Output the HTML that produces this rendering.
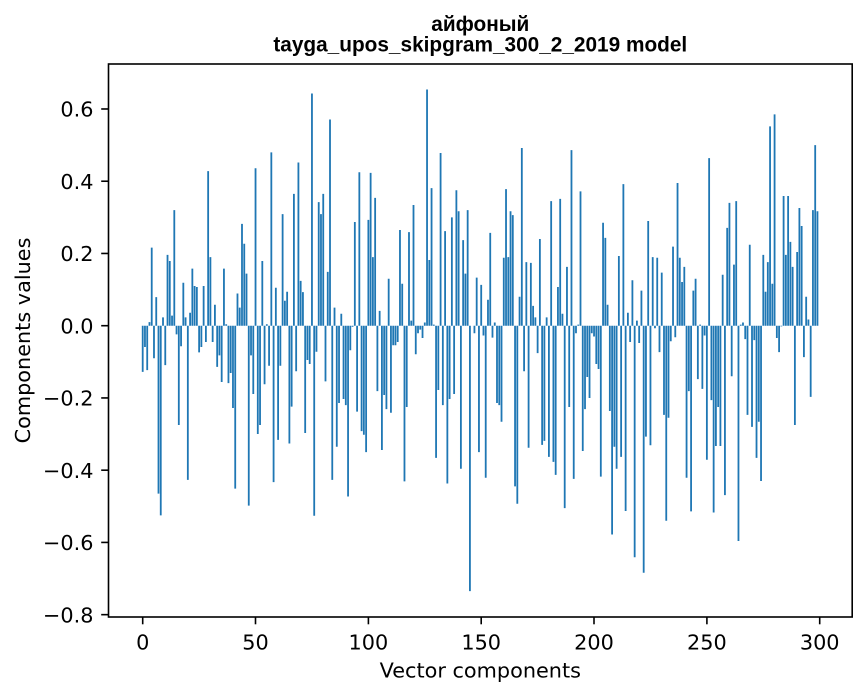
<!DOCTYPE html>
<html>
<head>
<meta charset="utf-8">
<style>
html,body{margin:0;padding:0;background:#fff;}
svg{display:block;}
.tk{font-family:"DejaVu Sans","Liberation Sans",sans-serif;font-size:20.8px;fill:#000;}
.tt{font-family:"Liberation Sans","DejaVu Sans",sans-serif;font-size:20.8px;font-weight:bold;fill:#000;}
</style>
</head>
<body>
<svg width="867" height="696" viewBox="0 0 867 696" xmlns="http://www.w3.org/2000/svg">
<rect x="0" y="0" width="867" height="696" fill="#fff"/>
<g transform="translate(142.7,325.7) scale(2.2567,-361.2)">
<path fill="#1f77b4" d="M-.4 0v-.128h.8V0zM.6 0v-.059h.8V0zM1.6 0v-.123h.8V0zM2.6 0v.01h.8V0zM3.6 0v.216h.8V0zM4.6 0v-.09h.8V0zM5.6 0v.079h.8V0zM6.6 0v-.465h.8V0zM7.6 0v-.525h.8V0zM8.6 0v.023h.8V0zM9.6 0v-.109h.8V0zM10.6 0v.196h.8V0zM11.6 0v.179h.8V0zM12.6 0v.028h.8V0zM13.6 0v.32h.8V0zM14.6 0v-.024h.8V0zM15.6 0v-.275h.8V0zM16.6 0v-.057h.8V0zM17.6 0v.119h.8V0zM18.6 0v.023h.8V0zM19.6 0v-.427h.8V0zM20.6 0v.036h.8V0zM21.6 0v.158h.8V0zM22.6 0v.11h.8V0zM23.6 0v.107h.8V0zM24.6 0v-.074h.8V0zM25.6 0v-.059h.8V0zM26.6 0v.11h.8V0zM27.6 0v-.045h.8V0zM28.6 0v.428h.8V0zM29.6 0v.19h.8V0zM30.6 0v-.045h.8V0zM31.6 0v.058h.8V0zM32.6 0v-.114h.8V0zM33.6 0v-.082h.8V0zM34.6 0v-.156h.8V0zM35.6 0v.158h.8V0zM36.6 0v.004h.8V0zM37.6 0v-.159h.8V0zM38.6 0v-.131h.8V0zM39.6 0v-.228h.8V0zM40.6 0v-.451h.8V0zM41.6 0v.089h.8V0zM42.6 0v.05h.8V0zM43.6 0v.282h.8V0zM44.6 0v.227h.8V0zM45.6 0v.144h.8V0zM46.6 0v-.498h.8V0zM47.6 0v-.082h.8V0zM48.6 0v-.189h.8V0zM49.6 0v.436h.8V0zM50.6 0v-.3h.8V0zM51.6 0v-.275h.8V0zM52.6 0v.179h.8V0zM53.6 0v-.162h.8V0zM54.6 0v.004h.8V0zM55.6 0v-.111h.8V0zM56.6 0v.48h.8V0zM57.6 0v-.433h.8V0zM58.6 0v.105h.8V0zM59.6 0v-.316h.8V0zM60.6 0v-.111h.8V0zM61.6 0v.309h.8V0zM62.6 0v.069h.8V0zM63.6 0v.094h.8V0zM64.6 0v-.326h.8V0zM65.6 0v-.224h.8V0zM66.6 0v.365h.8V0zM67.6 0v-.126h.8V0zM68.6 0v.452h.8V0zM69.6 0v.124h.8V0zM70.6 0v.093h.8V0zM71.6 0v-.297h.8V0zM72.6 0v-.095h.8V0zM73.6 0v-.106h.8V0zM74.6 0v.643h.8V0zM75.6 0v-.526h.8V0zM76.6 0v-.072h.8V0zM77.6 0v.342h.8V0zM78.6 0v.309h.8V0zM79.6 0v.365h.8V0zM80.6 0v-.154h.8V0zM81.6 0v.149h.8V0zM82.6 0v.571h.8V0zM83.6 0v-.427h.8V0zM84.6 0v.05h.8V0zM85.6 0v-.335h.8V0zM86.6 0v-.214h.8V0zM87.6 0v.033h.8V0zM88.6 0v-.203h.8V0zM89.6 0v-.22h.8V0zM90.6 0v-.473h.8V0zM91.6 0v-.068h.8V0zM92.6 0v-.003h.8V0zM93.6 0v.287h.8V0zM94.6 0v-.238h.8V0zM95.6 0v.425h.8V0zM96.6 0v-.292h.8V0zM97.6 0v-.302h.8V0zM98.6 0v-.35h.8V0zM99.6 0v.293h.8V0zM100.6 0v.423h.8V0zM101.6 0v.19h.8V0zM102.6 0v.354h.8V0zM103.6 0v-.181h.8V0zM104.6 0v.041h.8V0zM105.6 0v-.344h.8V0zM106.6 0v-.192h.8V0zM107.6 0v-.231h.8V0zM108.6 0v.13h.8V0zM109.6 0v-.241h.8V0zM110.6 0v-.054h.8V0zM111.6 0v-.054h.8V0zM112.6 0v-.045h.8V0zM113.6 0v.265h.8V0zM114.6 0v.116h.8V0zM115.6 0v-.431h.8V0zM116.6 0v-.225h.8V0zM117.6 0v.259h.8V0zM118.6 0v.014h.8V0zM119.6 0v.334h.8V0zM120.6 0v-.079h.8V0zM121.6 0v-.021h.8V0zM122.6 0v-.011h.8V0zM123.6 0v-.034h.8V0zM124.6 0v.009h.8V0zM125.6 0v.654h.8V0zM126.6 0v.182h.8V0zM127.6 0v.381h.8V0zM128.6 0v.003h.8V0zM129.6 0v-.366h.8V0zM130.6 0v-.178h.8V0zM131.6 0v.478h.8V0zM132.6 0v-.22h.8V0zM133.6 0v.262h.8V0zM134.6 0v-.437h.8V0zM135.6 0v-.203h.8V0zM136.6 0v.3h.8V0zM137.6 0v-.189h.8V0zM138.6 0v.375h.8V0zM139.6 0v.317h.8V0zM140.6 0v-.396h.8V0zM141.6 0v.237h.8V0zM142.6 0v.144h.8V0zM143.6 0v.32h.8V0zM144.6 0v-.735h.8V0zM146.6 0v-.021h.8V0zM147.6 0v.133h.8V0zM148.6 0v-.35h.8V0zM149.6 0v.113h.8V0zM150.6 0v-.027h.8V0zM151.6 0v-.421h.8V0zM152.6 0v.072h.8V0zM153.6 0v.257h.8V0zM154.6 0v-.033h.8V0zM155.6 0v.009h.8V0zM156.6 0v-.214h.8V0zM157.6 0v-.22h.8V0zM158.6 0v-.266h.8V0zM159.6 0v.188h.8V0zM160.6 0v.378h.8V0zM161.6 0v.19h.8V0zM162.6 0v.317h.8V0zM163.6 0v.306h.8V0zM164.6 0v-.445h.8V0zM165.6 0v-.493h.8V0zM166.6 0v.08h.8V0zM167.6 0v.492h.8V0zM168.6 0v-.126h.8V0zM169.6 0v.176h.8V0zM170.6 0v-.338h.8V0zM171.6 0v.174h.8V0zM172.6 0v.055h.8V0zM173.6 0v.023h.8V0zM174.6 0v-.076h.8V0zM175.6 0v.24h.8V0zM176.6 0v-.33h.8V0zM177.6 0v-.319h.8V0zM178.6 0v.023h.8V0zM179.6 0v-.363h.8V0zM180.6 0v.345h.8V0zM181.6 0v-.377h.8V0zM182.6 0v-.413h.8V0zM183.6 0v.107h.8V0zM184.6 0v.351h.8V0zM185.6 0v.033h.8V0zM186.6 0v-.505h.8V0zM187.6 0v.163h.8V0zM188.6 0v-.225h.8V0zM189.6 0v.486h.8V0zM190.6 0v-.424h.8V0zM191.6 0v-.021h.8V0zM192.6 0v.003h.8V0zM193.6 0v.372h.8V0zM194.6 0v-.347h.8V0zM195.6 0v-.231h.8V0zM196.6 0v-.142h.8V0zM197.6 0v-.2h.8V0zM198.6 0v-.021h.8V0zM199.6 0v-.03h.8V0zM200.6 0v-.106h.8V0zM201.6 0v-.12h.8V0zM202.6 0v-.418h.8V0zM203.6 0v.285h.8V0zM204.6 0v.243h.8V0zM205.6 0v.058h.8V0zM206.6 0v-.236h.8V0zM207.6 0v-.578h.8V0zM208.6 0v-.335h.8V0zM209.6 0v-.396h.8V0zM210.6 0v.193h.8V0zM211.6 0v-.363h.8V0zM212.6 0v.392h.8V0zM213.6 0v-.513h.8V0zM214.6 0v.036h.8V0zM215.6 0v-.045h.8V0zM216.6 0v.126h.8V0zM217.6 0v-.641h.8V0zM218.6 0v.014h.8V0zM219.6 0v-.048h.8V0zM220.6 0v.097h.8V0zM221.6 0v-.684h.8V0zM222.6 0v-.307h.8V0zM223.6 0v.29h.8V0zM224.6 0v-.331h.8V0zM225.6 0v.19h.8V0zM226.6 0v-.007h.8V0zM227.6 0v.188h.8V0zM228.6 0v-.073h.8V0zM229.6 0v.147h.8V0zM230.6 0v-.247h.8V0zM231.6 0v-.54h.8V0zM232.6 0v-.255h.8V0zM233.6 0v-.043h.8V0zM234.6 0v.219h.8V0zM235.6 0v-.032h.8V0zM236.6 0v.395h.8V0zM237.6 0v.188h.8V0zM238.6 0v.121h.8V0zM239.6 0v.163h.8V0zM240.6 0v-.421h.8V0zM241.6 0v-.181h.8V0zM242.6 0v-.514h.8V0zM243.6 0v.097h.8V0zM244.6 0v.13h.8V0zM245.6 0v-.148h.8V0zM246.6 0v.003h.8V0zM247.6 0v-.175h.8V0zM248.6 0v-.027h.8V0zM249.6 0v-.371h.8V0zM250.6 0v.464h.8V0zM251.6 0v-.206h.8V0zM252.6 0v-.517h.8V0zM253.6 0v-.333h.8V0zM254.6 0v-.225h.8V0zM255.6 0v-.333h.8V0zM256.6 0v.141h.8V0zM257.6 0v-.469h.8V0zM258.6 0v.271h.8V0zM259.6 0v.34h.8V0zM260.6 0v-.14h.8V0zM261.6 0v.169h.8V0zM262.6 0v.345h.8V0zM263.6 0v-.596h.8V0zM264.6 0v.003h.8V0zM265.6 0v.009h.8V0zM266.6 0v-.037h.8V0zM267.6 0v-.247h.8V0zM268.6 0v.224h.8V0zM269.6 0v-.28h.8V0zM270.6 0v-.04h.8V0zM271.6 0v-.366h.8V0zM272.6 0v-.266h.8V0zM273.6 0v-.43h.8V0zM274.6 0v.196h.8V0zM275.6 0v.094h.8V0zM276.6 0v.176h.8V0zM277.6 0v.552h.8V0zM278.6 0v.116h.8V0zM279.6 0v.585h.8V0zM280.6 0v-.034h.8V0zM281.6 0v-.073h.8V0zM282.6 0v-.002h.8V0zM283.6 0v.359h.8V0zM284.6 0v.196h.8V0zM285.6 0v.359h.8V0zM286.6 0v.232h.8V0zM287.6 0v.163h.8V0zM288.6 0v-.275h.8V0zM289.6 0v.204h.8V0zM290.6 0v.326h.8V0zM291.6 0v.276h.8V0zM292.6 0v-.087h.8V0zM293.6 0v.08h.8V0zM294.6 0v.017h.8V0zM295.6 0v-.197h.8V0zM296.6 0v.32h.8V0zM297.6 0v.5h.8V0zM298.6 0v.317h.8V0z"/>
</g>
<!-- spines -->
<rect x="108.5" y="64" width="743.7" height="553" fill="none" stroke="#000" stroke-width="1.6"/>
<!-- y ticks -->
<g stroke="#000" stroke-width="1.6">
<line x1="101.2" y1="108.98" x2="108.5" y2="108.98"/>
<line x1="101.2" y1="181.22" x2="108.5" y2="181.22"/>
<line x1="101.2" y1="253.46" x2="108.5" y2="253.46"/>
<line x1="101.2" y1="325.7" x2="108.5" y2="325.7"/>
<line x1="101.2" y1="397.94" x2="108.5" y2="397.94"/>
<line x1="101.2" y1="470.18" x2="108.5" y2="470.18"/>
<line x1="101.2" y1="542.42" x2="108.5" y2="542.42"/>
<line x1="101.2" y1="614.66" x2="108.5" y2="614.66"/>
<line x1="142.7" y1="617" x2="142.7" y2="624.3"/>
<line x1="255.5" y1="617" x2="255.5" y2="624.3"/>
<line x1="368.4" y1="617" x2="368.4" y2="624.3"/>
<line x1="481.2" y1="617" x2="481.2" y2="624.3"/>
<line x1="594.0" y1="617" x2="594.0" y2="624.3"/>
<line x1="706.9" y1="617" x2="706.9" y2="624.3"/>
<line x1="819.7" y1="617" x2="819.7" y2="624.3"/>
</g>
<g class="tk" text-anchor="end">
<text x="93.5" y="116.6">0.6</text>
<text x="93.5" y="188.8">0.4</text>
<text x="93.5" y="261.1">0.2</text>
<text x="93.5" y="333.3">0.0</text>
<text x="93.5" y="405.5">−0.2</text>
<text x="93.5" y="477.8">−0.4</text>
<text x="93.5" y="550.0">−0.6</text>
<text x="93.5" y="622.3">−0.8</text>
</g>
<g class="tk" text-anchor="middle">
<text x="142.7" y="649.5">0</text>
<text x="255.5" y="649.5">50</text>
<text x="368.4" y="649.5">100</text>
<text x="481.2" y="649.5">150</text>
<text x="594.0" y="649.5">200</text>
<text x="706.9" y="649.5">250</text>
<text x="819.7" y="649.5">300</text>
<text x="480.3" y="677.7">Vector components</text>
<text transform="translate(30,340.5) rotate(-90)" x="0" y="0">Components values</text>
</g>
<g class="tt" text-anchor="middle">
<text x="480.3" y="31">айфоный</text>
<text x="480.3" y="51.5">tayga_upos_skipgram_300_2_2019 model</text>
</g>
</svg>
</body>
</html>
